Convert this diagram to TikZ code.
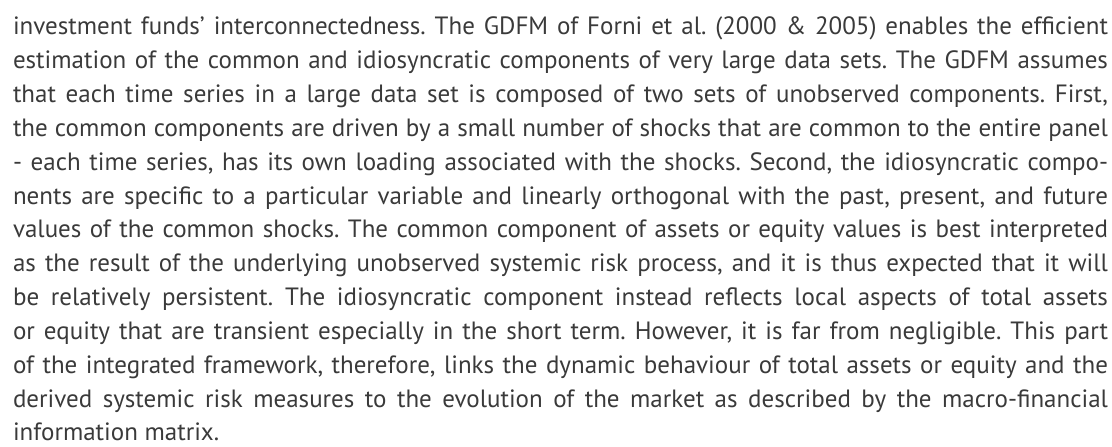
\documentclass[tikz,border=0pt]{standalone}
\usepackage{fontspec}
\setmainfont{PT Sans}
\definecolor{txtgray}{HTML}{3A3A3A}
\tikzset{
  txt/.style={anchor=base west, inner sep=0pt, outer sep=0pt, text=txtgray,
    font=\fontsize{25}{31}\selectfont}
}
\newcommand{\jline}[1]{\makebox[1095pt][s]{#1}}
\frenchspacing
\begin{document}
\begin{tikzpicture}[x=1pt,y=1pt]
\useasboundingbox (0,0) rectangle (1112,447);
\node[txt] (l1)  at (13,412) {\jline{investment funds’ interconnectedness. The GDFM of Forni et al. (2000 \& 2005) enables the efficient}};
\node[txt] (l2)  at (13,378.2) {\jline{estimation of the common and idiosyncratic components of very large data sets. The GDFM assumes}};
\node[txt] (l3)  at (13,344.3) {\jline{that each time series in a large data set is composed of two sets of unobserved components. First,}};
\node[txt] (l4)  at (13,310.5) {\jline{the common components are driven by a small number of shocks that are common to the entire panel}};
\node[txt] (l5)  at (13,276.7) {\jline{- each time series, has its own loading associated with the shocks. Second, the idiosyncratic compo-}};
\node[txt] (l6)  at (13,242.8) {\jline{nents are specific to a particular variable and linearly orthogonal with the past, present, and future}};
\node[txt] (l7)  at (13,209) {\jline{values of the common shocks. The common component of assets or equity values is best interpreted}};
\node[txt] (l8)  at (13,175.2) {\jline{as the result of the underlying unobserved systemic risk process, and it is thus expected that it will}};
\node[txt] (l9)  at (13,141.3) {\jline{be relatively persistent. The idiosyncratic component instead reflects local aspects of total assets}};
\node[txt] (l10) at (13,107.5) {\jline{or equity that are transient especially in the short term. However, it is far from negligible. This part}};
\node[txt] (l11) at (13,73.7)  {\jline{of the integrated framework, therefore, links the dynamic behaviour of total assets or equity and the}};
\node[txt] (l12) at (13,39.8)  {\jline{derived systemic risk measures to the evolution of the market as described by the macro-financial}};
\node[txt] (l13) at (13,6)   {information matrix.};
\end{tikzpicture}
\end{document}
